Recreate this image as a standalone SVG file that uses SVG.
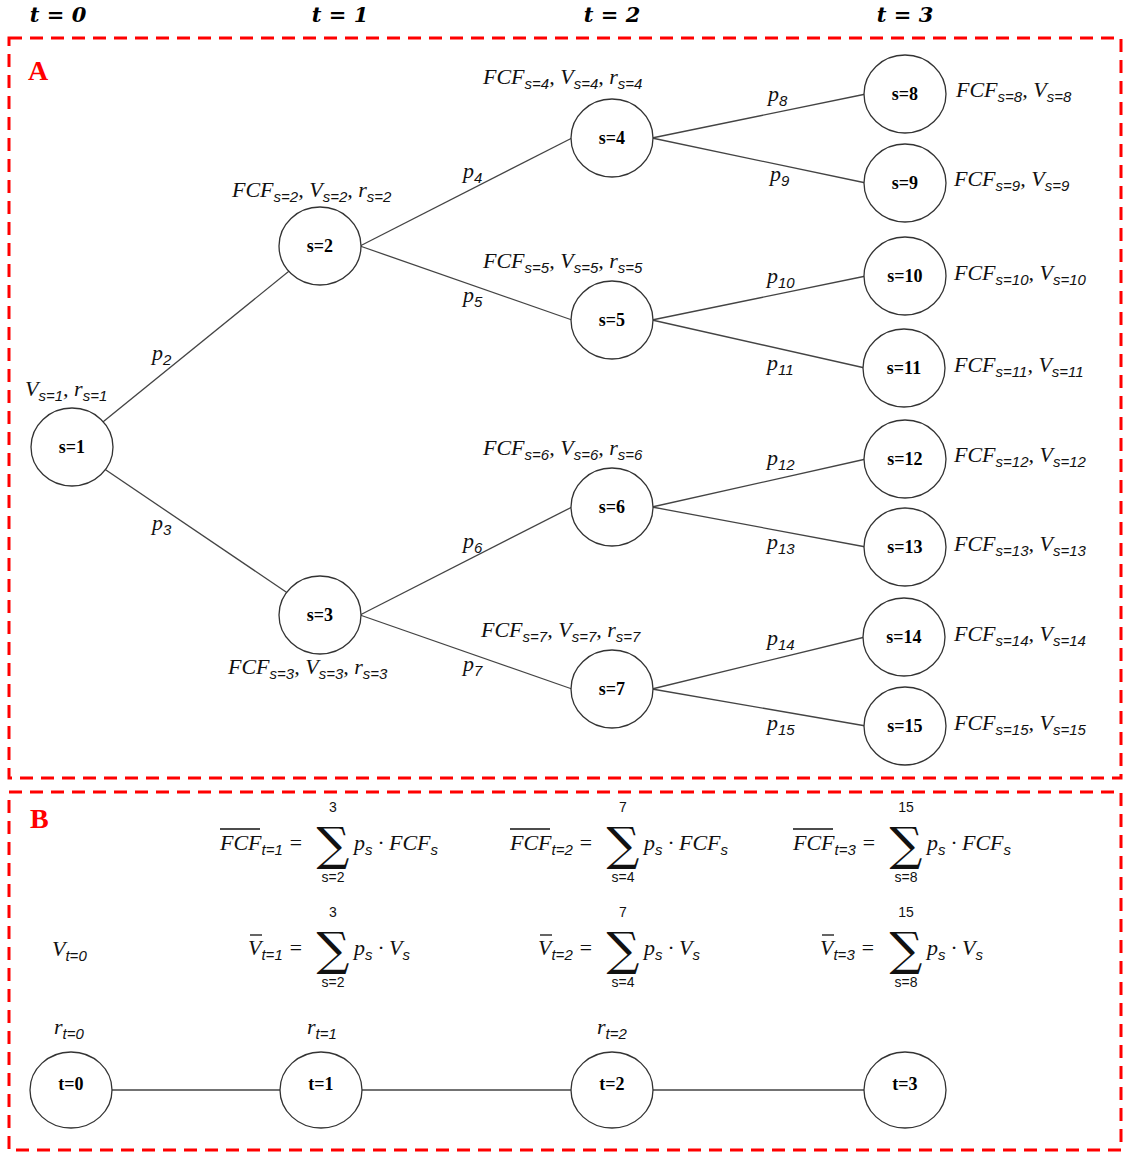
<svg xmlns="http://www.w3.org/2000/svg" width="1123" height="1152" viewBox="0 0 1123 1152">
<style>
.box{fill:none;stroke:#ff0000;stroke-width:3;stroke-dasharray:13 8}
.nd{fill:#fff;stroke:#333;stroke-width:1.3}
.nt{font-family:"Liberation Serif",serif;font-weight:bold;font-size:18px;text-anchor:middle;fill:#000}
.m{font-family:"Liberation Serif",serif;font-style:italic;font-size:22px;fill:#111}
.sb{font-family:"Liberation Sans",sans-serif;font-size:15px}
.hd{font-family:"DejaVu Serif",serif;font-style:italic;font-weight:bold;font-size:21px;text-anchor:middle}
.lab{font-family:"Liberation Serif",serif;font-weight:bold;font-size:28px;fill:#ff0000}
.sig{font-family:"DejaVu Serif",serif;font-size:46px;text-anchor:middle;fill:#111}
.lim{font-family:"Liberation Sans",sans-serif;font-size:14px;text-anchor:middle;fill:#111}
.ln{stroke:#444;stroke-width:1.3;fill:none}
.ol{stroke:#111;stroke-width:1.3}
</style>
<rect width="1123" height="1152" fill="#fff"/>
<text class="hd" x="58" y="22">t = 0</text>
<text class="hd" x="340" y="22">t = 1</text>
<text class="hd" x="612" y="22">t = 2</text>
<text class="hd" x="905" y="22">t = 3</text>
<rect class="box" x="9" y="38" width="1112" height="740"/>
<rect class="box" x="9" y="792" width="1112" height="358"/>
<text class="lab" x="28" y="80">A</text>
<text class="lab" x="30" y="828">B</text>
<g id="connectors">
<line class="ln" x1="72" y1="447" x2="320" y2="246"/>
<line class="ln" x1="72" y1="447" x2="320" y2="615"/>
<line class="ln" x1="360" y1="246" x2="572" y2="138"/>
<line class="ln" x1="360" y1="246" x2="572" y2="320"/>
<line class="ln" x1="360" y1="615" x2="572" y2="507"/>
<line class="ln" x1="360" y1="615" x2="572" y2="689"/>
<line class="ln" x1="652" y1="138" x2="866" y2="94"/>
<line class="ln" x1="652" y1="138" x2="866" y2="183"/>
<line class="ln" x1="652" y1="320" x2="866" y2="276"/>
<line class="ln" x1="652" y1="320" x2="865" y2="368"/>
<line class="ln" x1="652" y1="507" x2="866" y2="459"/>
<line class="ln" x1="652" y1="507" x2="866" y2="547"/>
<line class="ln" x1="652" y1="689" x2="865" y2="637"/>
<line class="ln" x1="652" y1="689" x2="866" y2="726"/>
<line class="ln" x1="71" y1="1090" x2="905" y2="1090"/>
</g>
<g id="s1"><ellipse class="nd" cx="72" cy="447" rx="41" ry="39"/><text class="nt" x="72" y="453">s=1</text></g>
<g id="s2"><ellipse class="nd" cx="320" cy="246" rx="41" ry="39"/><text class="nt" x="320" y="252">s=2</text></g>
<g id="s3"><ellipse class="nd" cx="320" cy="615" rx="41" ry="39"/><text class="nt" x="320" y="621">s=3</text></g>
<g id="s4"><ellipse class="nd" cx="612" cy="138" rx="41" ry="39"/><text class="nt" x="612" y="144">s=4</text></g>
<g id="s5"><ellipse class="nd" cx="612" cy="320" rx="41" ry="39"/><text class="nt" x="612" y="326">s=5</text></g>
<g id="s6"><ellipse class="nd" cx="612" cy="507" rx="41" ry="39"/><text class="nt" x="612" y="513">s=6</text></g>
<g id="s7"><ellipse class="nd" cx="612" cy="689" rx="41" ry="39"/><text class="nt" x="612" y="695">s=7</text></g>
<g id="s8"><ellipse class="nd" cx="905" cy="94" rx="41" ry="39"/><text class="nt" x="905" y="100">s=8</text></g>
<g id="s9"><ellipse class="nd" cx="905" cy="183" rx="41" ry="39"/><text class="nt" x="905" y="189">s=9</text></g>
<g id="s10"><ellipse class="nd" cx="905" cy="276" rx="41" ry="39"/><text class="nt" x="905" y="282">s=10</text></g>
<g id="s11"><ellipse class="nd" cx="904" cy="368" rx="41" ry="39"/><text class="nt" x="904" y="374">s=11</text></g>
<g id="s12"><ellipse class="nd" cx="905" cy="459" rx="41" ry="39"/><text class="nt" x="905" y="465">s=12</text></g>
<g id="s13"><ellipse class="nd" cx="905" cy="547" rx="41" ry="39"/><text class="nt" x="905" y="553">s=13</text></g>
<g id="s14"><ellipse class="nd" cx="904" cy="637" rx="41" ry="39"/><text class="nt" x="904" y="643">s=14</text></g>
<g id="s15"><ellipse class="nd" cx="905" cy="726" rx="41" ry="39"/><text class="nt" x="905" y="732">s=15</text></g>
<g id="t0"><ellipse class="nd" cx="71" cy="1090" rx="41" ry="38"/><text class="nt" x="71" y="1090" font-size="20">t=0</text></g>
<g id="t1"><ellipse class="nd" cx="321" cy="1090" rx="41" ry="38"/><text class="nt" x="321" y="1090" font-size="20">t=1</text></g>
<g id="t2"><ellipse class="nd" cx="612" cy="1090" rx="41" ry="38"/><text class="nt" x="612" y="1090" font-size="20">t=2</text></g>
<g id="t3"><ellipse class="nd" cx="905" cy="1090" rx="41" ry="38"/><text class="nt" x="905" y="1090" font-size="20">t=3</text></g>
<g class="m">
<text x="152" y="360">p<tspan class="sb" dy="5">2</tspan></text>
<text x="152" y="530">p<tspan class="sb" dy="5">3</tspan></text>
<text x="463" y="178">p<tspan class="sb" dy="5">4</tspan></text>
<text x="463" y="302">p<tspan class="sb" dy="5">5</tspan></text>
<text x="463" y="548">p<tspan class="sb" dy="5">6</tspan></text>
<text x="463" y="671">p<tspan class="sb" dy="5">7</tspan></text>
<text x="768" y="101">p<tspan class="sb" dy="5">8</tspan></text>
<text x="770" y="181">p<tspan class="sb" dy="5">9</tspan></text>
<text x="767" y="283">p<tspan class="sb" dy="5">10</tspan></text>
<text x="767" y="370">p<tspan class="sb" dy="5">11</tspan></text>
<text x="767" y="465">p<tspan class="sb" dy="5">12</tspan></text>
<text x="767" y="549">p<tspan class="sb" dy="5">13</tspan></text>
<text x="767" y="645">p<tspan class="sb" dy="5">14</tspan></text>
<text x="767" y="730">p<tspan class="sb" dy="5">15</tspan></text>
</g>
<g class="m">
<text x="25" y="396">V<tspan class="sb" dy="5">s=1</tspan><tspan dy="-5">, r</tspan><tspan class="sb" dy="5">s=1</tspan></text>
<text x="232" y="197">FCF<tspan class="sb" dy="5">s=2</tspan><tspan dy="-5">, V</tspan><tspan class="sb" dy="5">s=2</tspan><tspan dy="-5">, r</tspan><tspan class="sb" dy="5">s=2</tspan></text>
<text x="228" y="674">FCF<tspan class="sb" dy="5">s=3</tspan><tspan dy="-5">, V</tspan><tspan class="sb" dy="5">s=3</tspan><tspan dy="-5">, r</tspan><tspan class="sb" dy="5">s=3</tspan></text>
<text x="483" y="84">FCF<tspan class="sb" dy="5">s=4</tspan><tspan dy="-5">, V</tspan><tspan class="sb" dy="5">s=4</tspan><tspan dy="-5">, r</tspan><tspan class="sb" dy="5">s=4</tspan></text>
<text x="483" y="268">FCF<tspan class="sb" dy="5">s=5</tspan><tspan dy="-5">, V</tspan><tspan class="sb" dy="5">s=5</tspan><tspan dy="-5">, r</tspan><tspan class="sb" dy="5">s=5</tspan></text>
<text x="483" y="455">FCF<tspan class="sb" dy="5">s=6</tspan><tspan dy="-5">, V</tspan><tspan class="sb" dy="5">s=6</tspan><tspan dy="-5">, r</tspan><tspan class="sb" dy="5">s=6</tspan></text>
<text x="481" y="637">FCF<tspan class="sb" dy="5">s=7</tspan><tspan dy="-5">, V</tspan><tspan class="sb" dy="5">s=7</tspan><tspan dy="-5">, r</tspan><tspan class="sb" dy="5">s=7</tspan></text>
<text x="956" y="97">FCF<tspan class="sb" dy="5">s=8</tspan><tspan dy="-5">, V</tspan><tspan class="sb" dy="5">s=8</tspan></text>
<text x="954" y="186">FCF<tspan class="sb" dy="5">s=9</tspan><tspan dy="-5">, V</tspan><tspan class="sb" dy="5">s=9</tspan></text>
<text x="954" y="280">FCF<tspan class="sb" dy="5">s=10</tspan><tspan dy="-5">, V</tspan><tspan class="sb" dy="5">s=10</tspan></text>
<text x="954" y="372">FCF<tspan class="sb" dy="5">s=11</tspan><tspan dy="-5">, V</tspan><tspan class="sb" dy="5">s=11</tspan></text>
<text x="954" y="462">FCF<tspan class="sb" dy="5">s=12</tspan><tspan dy="-5">, V</tspan><tspan class="sb" dy="5">s=12</tspan></text>
<text x="954" y="551">FCF<tspan class="sb" dy="5">s=13</tspan><tspan dy="-5">, V</tspan><tspan class="sb" dy="5">s=13</tspan></text>
<text x="954" y="641">FCF<tspan class="sb" dy="5">s=14</tspan><tspan dy="-5">, V</tspan><tspan class="sb" dy="5">s=14</tspan></text>
<text x="954" y="730">FCF<tspan class="sb" dy="5">s=15</tspan><tspan dy="-5">, V</tspan><tspan class="sb" dy="5">s=15</tspan></text>
</g>
<g id="formulas">
<text class="m" x="220" y="850">FCF<tspan class="sb" dy="5">t=1</tspan><tspan dy="-5"> =</tspan></text>
<line class="ol" x1="220" y1="829" x2="260" y2="829"/>
<text class="lim" x="333" y="812">3</text>
<text class="sig" x="333" y="860">∑</text>
<text class="lim" x="333" y="882">s=2</text>
<text class="m" x="354" y="850">p<tspan class="sb" dy="5">s</tspan><tspan dy="-5"> · FCF</tspan><tspan class="sb" dy="5">s</tspan></text>

<text class="m" x="510" y="850">FCF<tspan class="sb" dy="5">t=2</tspan><tspan dy="-5"> =</tspan></text>
<line class="ol" x1="510" y1="829" x2="550" y2="829"/>
<text class="lim" x="623" y="812">7</text>
<text class="sig" x="623" y="860">∑</text>
<text class="lim" x="623" y="882">s=4</text>
<text class="m" x="644" y="850">p<tspan class="sb" dy="5">s</tspan><tspan dy="-5"> · FCF</tspan><tspan class="sb" dy="5">s</tspan></text>

<text class="m" x="793" y="850">FCF<tspan class="sb" dy="5">t=3</tspan><tspan dy="-5"> =</tspan></text>
<line class="ol" x1="793" y1="829" x2="833" y2="829"/>
<text class="lim" x="906" y="812">15</text>
<text class="sig" x="906" y="860">∑</text>
<text class="lim" x="906" y="882">s=8</text>
<text class="m" x="927" y="850">p<tspan class="sb" dy="5">s</tspan><tspan dy="-5"> · FCF</tspan><tspan class="sb" dy="5">s</tspan></text>

<text class="m" x="52" y="956">V<tspan class="sb" dy="5">t=0</tspan></text>

<text class="m" x="248" y="955">V<tspan class="sb" dy="5">t=1</tspan><tspan dy="-5"> =</tspan></text>
<line class="ol" x1="250" y1="935" x2="262" y2="935"/>
<text class="lim" x="333" y="917">3</text>
<text class="sig" x="333" y="965">∑</text>
<text class="lim" x="333" y="987">s=2</text>
<text class="m" x="354" y="955">p<tspan class="sb" dy="5">s</tspan><tspan dy="-5"> · V</tspan><tspan class="sb" dy="5">s</tspan></text>

<text class="m" x="538" y="955">V<tspan class="sb" dy="5">t=2</tspan><tspan dy="-5"> =</tspan></text>
<line class="ol" x1="540" y1="935" x2="552" y2="935"/>
<text class="lim" x="623" y="917">7</text>
<text class="sig" x="623" y="965">∑</text>
<text class="lim" x="623" y="987">s=4</text>
<text class="m" x="644" y="955">p<tspan class="sb" dy="5">s</tspan><tspan dy="-5"> · V</tspan><tspan class="sb" dy="5">s</tspan></text>

<text class="m" x="820" y="955">V<tspan class="sb" dy="5">t=3</tspan><tspan dy="-5"> =</tspan></text>
<line class="ol" x1="822" y1="935" x2="834" y2="935"/>
<text class="lim" x="906" y="917">15</text>
<text class="sig" x="906" y="965">∑</text>
<text class="lim" x="906" y="987">s=8</text>
<text class="m" x="927" y="955">p<tspan class="sb" dy="5">s</tspan><tspan dy="-5"> · V</tspan><tspan class="sb" dy="5">s</tspan></text>

<text class="m" x="54" y="1034">r<tspan class="sb" dy="5">t=0</tspan></text>
<text class="m" x="307" y="1034">r<tspan class="sb" dy="5">t=1</tspan></text>
<text class="m" x="597" y="1034">r<tspan class="sb" dy="5">t=2</tspan></text>
</g>
</svg>
